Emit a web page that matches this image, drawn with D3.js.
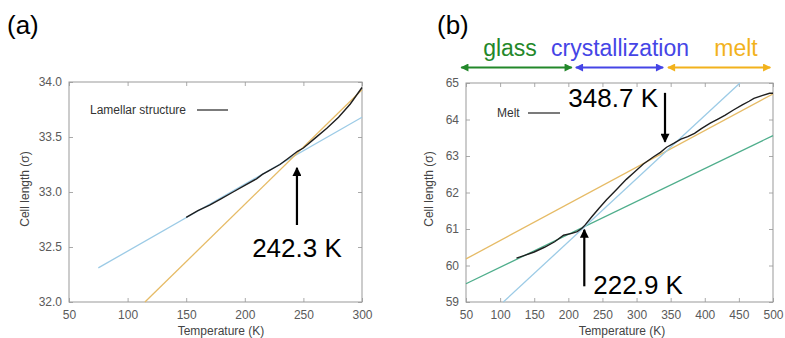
<!DOCTYPE html>
<html lang="en">
<head>
    <meta charset="UTF-8">
    <title>Cell length vs temperature</title>
    <script src="https://cdn.jsdelivr.net/npm/d3@7/dist/d3.min.js"></script>
    <style>
        body { margin: 0; background: #fff; }
        text { font-family: "Liberation Sans", Arial, sans-serif; }
    </style>
</head>
<body>
<script>
    // panel (a) data
    var aTicksX = [50, 100, 150, 200, 250, 300];
    var aTicksY = [32.0, 32.5, 33.0, 33.5, 34.0];
    var aCurveT = [150, 160, 170, 180, 190, 200, 210, 215, 220, 230, 240, 245, 250, 260, 270, 280, 290, 300];
    var aCurveL = [32.77, 32.83, 32.88, 32.94, 33.00, 33.06, 33.12, 33.16, 33.19, 33.25, 33.33, 33.37, 33.40, 33.49, 33.58, 33.68, 33.80, 33.95];
    var aFitBlue = [[75, 32.31], [300, 33.68]];
    var aFitOrange = [[114.8, 32.0], [300, 33.93]];
    var aArrow = {t: 244.5, from: 32.70, to: 33.22, label: "242.3 K", labelY: 32.41};

    // panel (b) data
    var bTicksX = [50, 100, 150, 200, 250, 300, 350, 400, 450, 500];
    var bTicksY = [59, 60, 61, 62, 63, 64, 65];
    var bCurveT = [124, 135, 150, 165, 180, 193, 205, 213, 220, 225, 235, 245, 256, 270, 285, 295, 310, 325, 335, 344, 355, 365, 375, 385, 395, 408, 420, 430, 442, 455, 465, 472, 485, 495, 500];
    var bCurveL = [60.20, 60.27, 60.37, 60.50, 60.65, 60.83, 60.88, 60.93, 61.02, 61.12, 61.35, 61.57, 61.80, 62.07, 62.36, 62.53, 62.78, 62.98, 63.10, 63.24, 63.35, 63.46, 63.53, 63.62, 63.75, 63.90, 64.02, 64.12, 64.26, 64.40, 64.50, 64.58, 64.66, 64.72, 64.72];
    var bFitOrange = [[50, 60.18], [500, 64.70]];
    var bFitGreen = [[50, 59.50], [500, 63.56]];
    var bFitBlue = [[104.7, 59.0], [451.6, 65.0]];
    var bArrows = [
        {t: 341.7, from: 64.73, to: 63.39, label: "348.7 K", labelY: 64.33, side: "left"},
        {t: 223.4, from: 59.43, to: 60.98, label: "222.9 K", labelY: 59.22, side: "right"}
    ];
    var regionNames = ["glass", "crystallization", "melt"];
    var regionFrom = [43, 211, 346];
    var regionTo = [205, 339, 496];
    var regionColors = ["#23882a", "#4545e6", "#f2b21c"];

    var svg = d3.select("body").append("svg")
        .attr("width", 785).attr("height", 338);

    var defs = svg.append("defs");
    function marker(id, color, w, h) {
        defs.append("marker")
            .attr("id", id)
            .attr("viewBox", "0 0 10 10")
            .attr("refX", 9).attr("refY", 5)
            .attr("markerUnits", "userSpaceOnUse")
            .attr("markerWidth", w).attr("markerHeight", h)
            .attr("orient", "auto-start-reverse")
            .append("path")
            .attr("d", "M0,0 L10,5 L0,10 Z")
            .attr("fill", color);
    }
    marker("arrowBlack", "#000", 12, 9);
    regionColors.forEach(function (c, i) { marker("arrowR" + i, c, 9, 8); });

    // 一个面板: 坐标框 + 四边的刻度
    function panel(box, xDomain, yDomain, ticksX, ticksY, fmtY) {
        var x = d3.scaleLinear().domain(xDomain).range([box.x0, box.x1]);
        var y = d3.scaleLinear().domain(yDomain).range([box.y1, box.y0]);
        var g = svg.append("g");

        var axes = [
            {a: d3.axisBottom(x).tickValues(ticksX).tickSize(-4).tickPadding(8).tickFormat(d3.format("d")), t: "translate(0," + box.y1 + ")"},
            {a: d3.axisTop(x).tickValues(ticksX).tickSize(-4).tickFormat(""), t: "translate(0," + box.y0 + ")"},
            {a: d3.axisLeft(y).tickValues(ticksY).tickSize(-4).tickPadding(7).tickFormat(fmtY), t: "translate(" + box.x0 + ",0)"},
            {a: d3.axisRight(y).tickValues(ticksY).tickSize(-4).tickFormat(""), t: "translate(" + box.x1 + ",0)"}
        ];
        axes.forEach(function (ax) {
            var s = g.append("g").attr("transform", ax.t).call(ax.a);
            s.select(".domain").remove();
            s.selectAll("line").attr("stroke", "#aaa");
            s.selectAll("text").attr("fill", "#5a5a5a").style("font-size", "12px");
        });
        g.append("rect")
            .attr("x", box.x0).attr("y", box.y0)
            .attr("width", box.x1 - box.x0).attr("height", box.y1 - box.y0)
            .attr("fill", "none").attr("stroke", "#999").attr("stroke-width", 1);
        return {x: x, y: y, g: g};
    }

    function fitLine(p, pts, color) {
        p.g.append("line")
            .attr("x1", p.x(pts[0][0])).attr("y1", p.y(pts[0][1]))
            .attr("x2", p.x(pts[1][0])).attr("y2", p.y(pts[1][1]))
            .attr("stroke", color).attr("stroke-width", 1.3);
    }
    function curve(p, ts, ls) {
        var line = d3.line().x(function (d, i) { return p.x(ts[i]); }).y(function (d, i) { return p.y(ls[i]); });
        p.g.append("path").datum(ts).attr("d", line)
            .attr("fill", "none").attr("stroke", "#1e1e1e").attr("stroke-width", 1.4);
    }
    function arrow(p, a) {
        p.g.append("line")
            .attr("x1", p.x(a.t)).attr("y1", p.y(a.from))
            .attr("x2", p.x(a.t)).attr("y2", p.y(a.to))
            .attr("stroke", "#000").attr("stroke-width", 2.2)
            .attr("marker-end", "url(#arrowBlack)");
    }

    // ---- (a)
    var pa = panel({x0: 69, x1: 362, y0: 82, y1: 302}, [50, 300], [32, 34], aTicksX, aTicksY, d3.format(".1f"));
    fitLine(pa, aFitBlue, "#9ccbe6");
    fitLine(pa, aFitOrange, "#e6bb66");
    curve(pa, aCurveT, aCurveL);
    arrow(pa, aArrow);
    pa.g.append("text").attr("x", pa.x(aArrow.t)).attr("y", pa.y(aArrow.labelY))
        .attr("text-anchor", "middle").style("font-size", "26px").text(aArrow.label);
    pa.g.append("text").attr("x", 90).attr("y", 114).style("font-size", "12px").attr("fill", "#333").text("Lamellar structure");
    pa.g.append("line").attr("x1", 197).attr("x2", 228).attr("y1", 110).attr("y2", 110).attr("stroke", "#222").attr("stroke-width", 1.2);
    svg.append("text").attr("x", 221).attr("y", 335).attr("text-anchor", "middle").style("font-size", "12px").attr("fill", "#444").text("Temperature (K)");
    svg.append("text").attr("transform", "translate(29,189) rotate(-90)").attr("text-anchor", "middle").style("font-size", "12px").attr("fill", "#444").text("Cell length (\u03c3)");
    svg.append("text").attr("x", 7).attr("y", 34).style("font-size", "26px").text("(a)");

    // ---- (b)
    var pb = panel({x0: 466, x1: 773, y0: 83, y1: 302}, [50, 500], [59, 65], bTicksX, bTicksY, d3.format("d"));
    fitLine(pb, bFitOrange, "#e6bb66");
    fitLine(pb, bFitGreen, "#4fae8c");
    fitLine(pb, bFitBlue, "#9ccbe6");
    curve(pb, bCurveT, bCurveL);
    bArrows.forEach(function (a) {
        arrow(pb, a);
        var left = a.side === "left";
        pb.g.append("text")
            .attr("x", pb.x(a.t) + (left ? -7 : 9)).attr("y", pb.y(a.labelY))
            .attr("text-anchor", left ? "end" : "start")
            .style("font-size", "26px").text(a.label);
    });
    pb.g.append("text").attr("x", 497).attr("y", 117).style("font-size", "12px").attr("fill", "#333").text("Melt");
    pb.g.append("line").attr("x1", 528).attr("x2", 560).attr("y1", 113).attr("y2", 113).attr("stroke", "#222").attr("stroke-width", 1.2);
    svg.append("text").attr("x", 622).attr("y", 335).attr("text-anchor", "middle").style("font-size", "12px").attr("fill", "#444").text("Temperature (K)");
    svg.append("text").attr("transform", "translate(433,189) rotate(-90)").attr("text-anchor", "middle").style("font-size", "12px").attr("fill", "#444").text("Cell length (\u03c3)");
    svg.append("text").attr("x", 437).attr("y", 34).style("font-size", "26px").text("(b)");

    // 区域标记: glass / crystallization / melt
    regionNames.forEach(function (name, i) {
        var x1 = pb.x(regionFrom[i]), x2 = pb.x(regionTo[i]);
        svg.append("line")
            .attr("x1", x1).attr("x2", x2).attr("y1", 67.5).attr("y2", 67.5)
            .attr("stroke", regionColors[i]).attr("stroke-width", 2.2)
            .attr("marker-start", "url(#arrowR" + i + ")")
            .attr("marker-end", "url(#arrowR" + i + ")");
    });
    var labelX = [510, 620, 736];
    regionNames.forEach(function (name, i) {
        svg.append("text").attr("x", labelX[i]).attr("y", 56)
            .attr("text-anchor", "middle").style("font-size", "23px")
            .attr("fill", regionColors[i]).text(name);
    });
</script>
</body>
</html>
